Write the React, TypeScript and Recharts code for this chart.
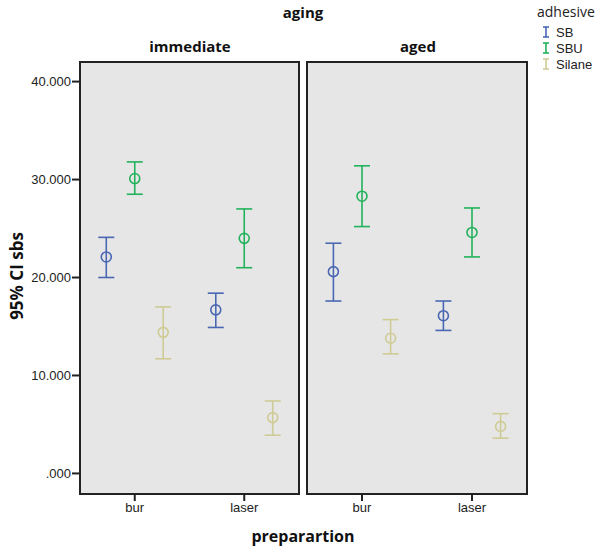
import { ErrorBar, ReferenceArea, Scatter, ScatterChart, XAxis, YAxis } from "recharts"

const categories = ["bur", "laser"]
const adhesives = ["SB", "SBU", "Silane"]
const adhesiveColors = ["#4a67b3", "#22b25c", "#cfcb95"]

// means / CI bounds per adhesive, one value per preparation (bur, laser)
const immediateMean = [[22.1, 16.7], [30.1, 24.0], [14.4, 5.7]]
const immediateLower = [[20.0, 14.9], [28.5, 21.0], [11.7, 3.9]]
const immediateUpper = [[24.1, 18.4], [31.8, 27.0], [17.0, 7.4]]

const agedMean = [[20.6, 16.1], [28.3, 24.6], [13.8, 4.8]]
const agedLower = [[17.6, 14.6], [25.2, 22.1], [12.2, 3.6]]
const agedUpper = [[23.5, 17.6], [31.4, 27.1], [15.7, 6.1]]

const yTicks = [0, 10, 20, 30, 40]
const Y_DOMAIN: [number, number] = [-2.1, 42]
const DODGE = 0.26

function buildPoints(mean: number[][], lower: number[][], upper: number[][], s: number) {
    return categories.map((_, c) => ({
        x: c + 0.5 + (s - 1) * DODGE,
        y: mean[s][c],
        err: [mean[s][c] - lower[s][c], upper[s][c] - mean[s][c]],
    }))
}

const tickStyle = { fontSize: 13, fill: "#222", fontFamily: "Liberation Sans, Arial, sans-serif" }

function Panel({ mean, lower, upper, showY, left, width, margin }: any) {
    return (
        <div style={{ position: "absolute", left, top: 0 }}>
            <ScatterChart width={width} height={553} margin={margin}>
                <XAxis
                    type="number"
                    dataKey="x"
                    domain={[0, 2]}
                    ticks={[0.5, 1.5]}
                    tickFormatter={(v: number) => categories[Math.floor(v)]}
                    axisLine={false}
                    tickLine={{ stroke: "#222", strokeWidth: 2 }}
                    tickSize={7}
                    tick={tickStyle}
                    height={30}
                    allowDataOverflow
                />
                <YAxis
                    type="number"
                    dataKey="y"
                    domain={Y_DOMAIN}
                    ticks={yTicks}
                    tickFormatter={(v: number) => (v === 0 ? ".000" : v.toFixed(3))}
                    axisLine={false}
                    tickLine={{ stroke: "#222", strokeWidth: 2 }}
                    tickSize={8}
                    tickMargin={1}
                    tick={tickStyle}
                    width={showY ? 80 : 0}
                    hide={!showY}
                    allowDataOverflow
                />
                <ReferenceArea
                    x1={0}
                    x2={2}
                    y1={Y_DOMAIN[0]}
                    y2={Y_DOMAIN[1]}
                    fill="#e6e6e6"
                    fillOpacity={1}
                    stroke="#222"
                    strokeWidth={2}
                />
                {adhesives.map((name, s) => (
                    <Scatter
                        key={name}
                        name={name}
                        data={buildPoints(mean, lower, upper, s)}
                        isAnimationActive={false}
                        shape={(p: any) => (
                            <circle cx={p.cx} cy={p.cy} r={5} fill="none" stroke={adhesiveColors[s]} strokeWidth={1.6} />
                        )}
                    >
                        <ErrorBar dataKey="err" direction="y" width={8} stroke={adhesiveColors[s]} strokeWidth={1.6} />
                    </Scatter>
                ))}
            </ScatterChart>
        </div>
    )
}

export default function App() {
    const bold = { fontFamily: "Open Sans, sans-serif", fontWeight: 700, color: "#111", position: "absolute" as const, whiteSpace: "nowrap" as const }
    return (
        <div style={{ position: "absolute", left: 0, top: 0, width: 600, height: 553, background: "#fff", fontFamily: "Liberation Sans, Arial, sans-serif" }}>
            <Panel
                mean={immediateMean}
                lower={immediateLower}
                upper={immediateUpper}
                showY
                left={0}
                width={300}
                margin={{ top: 62, right: 1, bottom: 29, left: 0 }}
            />
            <Panel
                mean={agedMean}
                lower={agedLower}
                upper={agedUpper}
                showY={false}
                left={300}
                width={300}
                margin={{ top: 62, right: 73, bottom: 29, left: 7 }}
            />
            <div style={{ ...bold, fontSize: 15, left: 303, top: 2, transform: "translateX(-50%)" }}>aging</div>
            <div style={{ ...bold, fontSize: 15, left: 190, top: 36, transform: "translateX(-50%)" }}>immediate</div>
            <div style={{ ...bold, fontSize: 15, left: 418, top: 36, transform: "translateX(-50%)" }}>aged</div>
            <div style={{ ...bold, fontSize: 16, left: 303, top: 525, transform: "translateX(-50%)" }}>preparartion</div>
            <div
                style={{
                    ...bold,
                    fontSize: 17,
                    left: 16,
                    top: 276,
                    transform: "translate(-50%, -50%) rotate(-90deg)",
                }}
            >
                95% CI sbs
            </div>
            <div style={{ position: "absolute", left: 537, top: 2, fontSize: 13, color: "#222" }}>
                <div style={{ fontFamily: "Open Sans, sans-serif", fontSize: 14, marginBottom: 3 }}>adhesive</div>
                {adhesives.map((name, s) => (
                    <div key={name} style={{ display: "flex", alignItems: "center", height: 16, marginLeft: 4 }}>
                        <svg width={10} height={12} style={{ marginRight: 5 }}>
                            <line x1={5} y1={1} x2={5} y2={11} stroke={adhesiveColors[s]} strokeWidth={1.6} />
                            <line x1={2} y1={1} x2={8} y2={1} stroke={adhesiveColors[s]} strokeWidth={1.6} />
                            <line x1={2} y1={11} x2={8} y2={11} stroke={adhesiveColors[s]} strokeWidth={1.6} />
                        </svg>
                        <span>{name}</span>
                    </div>
                ))}
            </div>
        </div>
    )
}
